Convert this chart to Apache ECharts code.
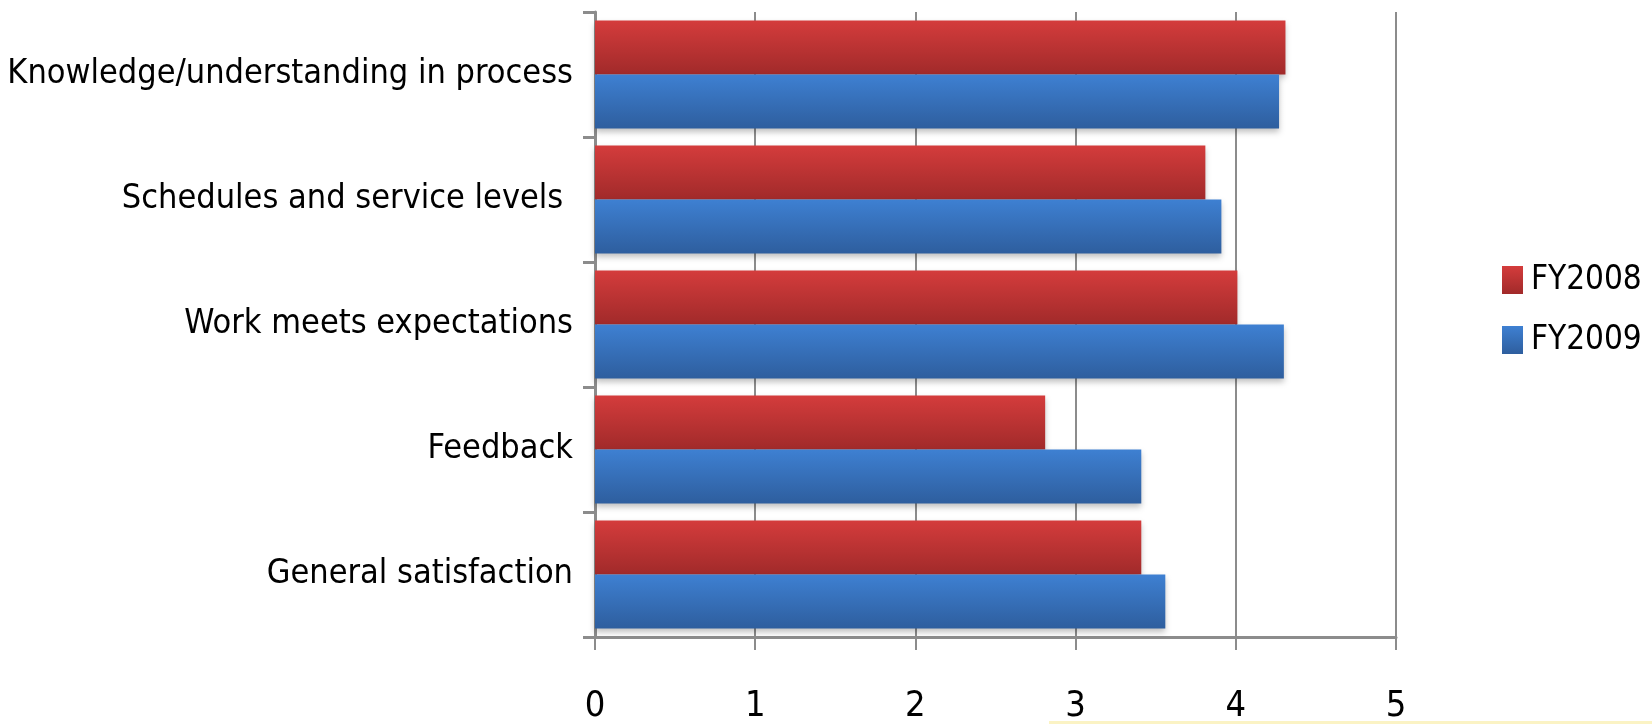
<!DOCTYPE html>
<html>
<head>
<meta charset="utf-8">
<script src="https://cdn.jsdelivr.net/npm/echarts@6/dist/echarts.min.js"></script>
<style>
  html, body { margin: 0; padding: 0; background: #fff; }
  #chart { width: 1652px; height: 724px; }
</style>
</head>
<body>
<div id="chart"></div>
<script>
// categories listed bottom to top (y category axis grows upward)
const categories = [
    'General satisfaction',
    'Feedback',
    'Work meets expectations',
    'Schedules and service levels ',
    'Knowledge/understanding in process'
];
const fy2008 = [3.41, 2.81, 4.01, 3.81, 4.31];
const fy2009 = [3.56, 3.41, 4.30, 3.91, 4.27];
const xTicks = [0, 1, 2, 3, 4, 5];

const FONT = "'Liberation Sans Narrow', 'DejaVu Sans Condensed', 'Open Sans', sans-serif";

function grad(top, bottom) {
    return new echarts.graphic.LinearGradient(0, 0, 0, 1, [
        { offset: 0, color: top },
        { offset: 1, color: bottom }
    ]);
}

const myChart = echarts.init(document.getElementById('chart'));

const option = {
    backgroundColor: '#ffffff',
    animation: false,
    grid: { left: 595, right: 256, top: 12, bottom: 87, containLabel: false, outerBoundsMode: 'none' },
    legend: {
        orient: 'vertical',
        left: 1497,
        top: 255,
        itemWidth: 21,
        itemHeight: 28,
        itemGap: 20,
        icon: 'rect',
        data: ['FY2008', 'FY2009'],
        textStyle: { fontFamily: FONT, fontSize: 33, color: '#000', lineHeight: 40, padding: [0, 0, 0, 3] }
    },
    xAxis: {
        type: 'value',
        min: 0,
        max: 5,
        interval: 1,
        axisLine: { show: true, lineStyle: { color: '#8c8c8c', width: 3 } },
        axisTick: { show: true, length: 13, lineStyle: { color: '#8c8c8c', width: 2 } },
        splitLine: { show: true, lineStyle: { color: '#8c8c8c', width: 2 } },
        axisLabel: {
            margin: 52,
            fontFamily: FONT,
            fontSize: 36,
            color: '#000',
            formatter: v => xTicks.indexOf(v) >= 0 ? String(v) : ''
        }
    },
    yAxis: {
        type: 'category',
        data: categories,
        axisLine: { show: true, lineStyle: { color: '#8c8c8c', width: 3 } },
        axisTick: { show: true, length: 12, lineStyle: { color: '#8c8c8c', width: 3 } },
        axisLabel: { margin: 22, fontFamily: FONT, fontSize: 34, color: '#000' }
    },
    series: [
        {
            name: 'FY2008',
            type: 'bar',
            data: fy2008,
            barWidth: 54,
            barGap: '0%',
            itemStyle: {
                color: grad('#d43c3c', '#a12a2a'),
                shadowBlur: 6,
                shadowOffsetY: 3,
                shadowColor: 'rgba(0,0,0,0.25)'
            }
        },
        {
            name: 'FY2009',
            type: 'bar',
            data: fy2009,
            barWidth: 54,
            barGap: '0%',
            itemStyle: {
                color: grad('#3e80d2', '#2e5e9e'),
                shadowBlur: 6,
                shadowOffsetY: 3,
                shadowColor: 'rgba(0,0,0,0.25)'
            }
        }
    ],
    graphic: [
        {
            type: 'rect',
            shape: { x: 1049, y: 721, width: 603, height: 3 },
            style: { fill: '#fbf3c4' },
            silent: true
        }
    ]
};

myChart.setOption(option);
</script>
</body>
</html>
